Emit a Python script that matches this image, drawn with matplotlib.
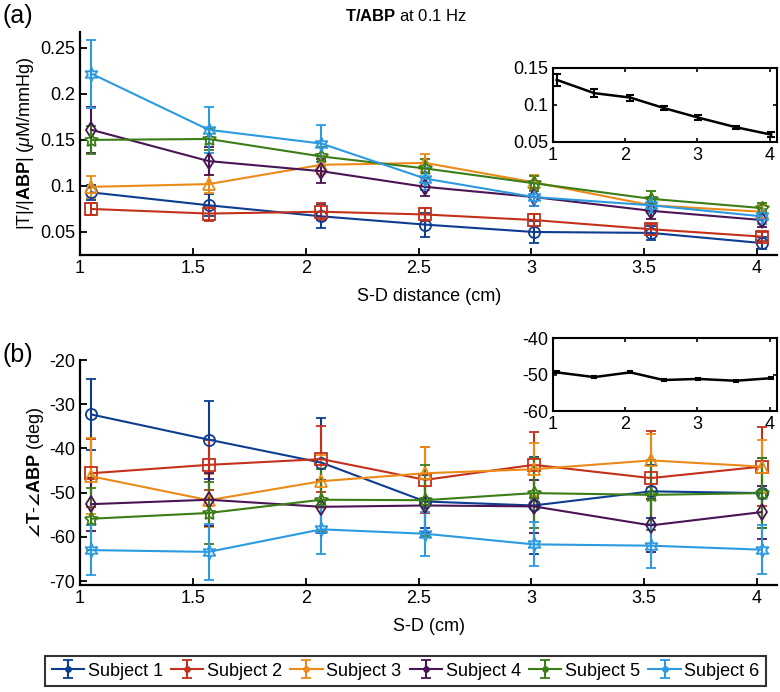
import matplotlib
matplotlib.use("Agg")
import matplotlib.pyplot as plt
from matplotlib.lines import Line2D
from matplotlib.legend_handler import HandlerErrorbar
import numpy as np

plt.rcParams['font.family'] = ['Liberation Sans', 'DejaVu Sans']
plt.rcParams['mathtext.fontset'] = 'custom'
plt.rcParams['mathtext.rm'] = 'Liberation Sans'
plt.rcParams['mathtext.it'] = 'Liberation Sans:italic'
plt.rcParams['mathtext.bf'] = 'Liberation Sans:bold'
plt.rcParams['axes.unicode_minus'] = False

# ---- data ----
sd = [1.05, 1.57, 2.07, 2.53, 3.01, 3.53, 4.02]
subjects = ['Subject 1', 'Subject 2', 'Subject 3', 'Subject 4', 'Subject 5', 'Subject 6']
colors = ['#0d3d91', '#c4301a', '#ec8a18', '#4a1554', '#3b7d16', '#2b9ae0']
markers = ['o', 's', '^', 'd', (5, 1, 0), (6, 1, 0)]
msizes = [8, 8, 8, 8, 10, 10]

amp = [
    [0.093, 0.079, 0.067, 0.058, 0.050, 0.049, 0.038],
    [0.075, 0.070, 0.072, 0.069, 0.063, 0.053, 0.045],
    [0.099, 0.102, 0.123, 0.125, 0.104, 0.079, 0.072],
    [0.161, 0.127, 0.116, 0.099, 0.088, 0.073, 0.063],
    [0.150, 0.151, 0.132, 0.119, 0.103, 0.086, 0.076],
    [0.222, 0.161, 0.146, 0.108, 0.088, 0.079, 0.067],
]
amp_err = [
    [0.008, 0.012, 0.013, 0.013, 0.012, 0.008, 0.007],
    [0.007, 0.008, 0.009, 0.007, 0.007, 0.006, 0.005],
    [0.012, 0.010, 0.010, 0.010, 0.008, 0.008, 0.008],
    [0.025, 0.015, 0.013, 0.010, 0.010, 0.009, 0.008],
    [0.015, 0.012, 0.010, 0.010, 0.008, 0.008, 0.006],
    [0.037, 0.025, 0.020, 0.012, 0.010, 0.008, 0.008],
]

phase = [
    [-32.3, -38.0, -43.2, -52.0, -52.9, -49.7, -50.1],
    [-45.6, -43.7, -42.4, -47.1, -43.7, -46.7, -44.1],
    [-46.3, -51.7, -47.4, -45.6, -44.7, -42.7, -44.1],
    [-52.6, -51.6, -53.2, -52.9, -53.1, -57.4, -54.4],
    [-55.9, -54.6, -51.6, -51.7, -50.1, -50.5, -50.1],
    [-63.0, -63.4, -58.3, -59.3, -61.7, -62.0, -62.9],
]
phase_err = [
    [8.0, 8.8, 10.0, 6.0, 11.0, 6.0, 8.0],
    [7.7, 5.6, 7.5, 7.5, 7.5, 10.7, 8.9],
    [8.6, 6.0, 6.0, 6.0, 6.0, 6.0, 6.0],
    [6.0, 6.0, 6.0, 6.0, 6.0, 6.0, 6.0],
    [7.0, 7.0, 7.0, 8.0, 8.0, 8.0, 8.0],
    [5.6, 6.3, 5.6, 5.0, 5.0, 5.0, 5.5],
]

amp_mean = [0.134, 0.116, 0.110, 0.096, 0.083, 0.070, 0.060]
amp_mean_err = [0.008, 0.005, 0.004, 0.003, 0.003, 0.002, 0.003]
phase_mean = [-49.4, -50.7, -49.4, -51.5, -51.2, -51.7, -51.0]
phase_mean_err = [0.3, 0.3, 0.3, 0.3, 0.3, 0.3, 0.3]

xticks = [1, 1.5, 2, 2.5, 3, 3.5, 4]
xticklabels = ['1', '1.5', '2', '2.5', '3', '3.5', '4']
amp_ticks = [0.05, 0.1, 0.15, 0.2, 0.25]
amp_ticklabels = ['0.05', '0.1', '0.15', '0.2', '0.25']
phase_ticks = [-70, -60, -50, -40, -30, -20]
inset_xticks = [1, 2, 3, 4]
inset_amp_ticks = [0.05, 0.1, 0.15]
inset_amp_labels = ['0.05', '0.1', '0.15']
inset_phase_ticks = [-60, -50, -40]

FS = 13

fig = plt.figure(figsize=(7.8, 6.92), dpi=100)
ax1 = fig.add_axes([0.1026, 0.6315, 0.894, 0.322])
ax2 = fig.add_axes([0.1026, 0.1546, 0.894, 0.325])


def style_main(ax):
    for s in ['top', 'right']:
        ax.spines[s].set_visible(False)
    for s in ['left', 'bottom']:
        ax.spines[s].set_linewidth(1.6)
    ax.tick_params(direction='in', length=5, width=1.3, labelsize=FS)
    ax.set_xlim(1, 4.09)
    ax.set_xticks(xticks)
    ax.set_xticklabels(xticklabels)


containers = []
for i in range(len(subjects)):
    c = ax1.errorbar(sd, amp[i], yerr=amp_err[i], color=colors[i], marker=markers[i],
                     mfc='none', ms=msizes[i], mew=1.3, lw=1.5, elinewidth=1.5, capsize=3.5,
                     capthick=1.5, label=subjects[i])
    containers.append(c)
    ax2.errorbar(sd, phase[i], yerr=phase_err[i], color=colors[i], marker=markers[i],
                 mfc='none', ms=msizes[i], mew=1.3, lw=1.5, elinewidth=1.5, capsize=3.5,
                 capthick=1.5)

style_main(ax1)
ax1.set_ylim(0.025, 0.267)
ax1.set_yticks(amp_ticks)
ax1.set_yticklabels(amp_ticklabels)
ax1.set_xlabel('S-D distance (cm)', fontsize=FS, labelpad=8)
ax1.set_ylabel(r'|T|/|$\mathbf{ABP}$| ($\mu$M/mmHg)', fontsize=FS, labelpad=3)

style_main(ax2)
ax2.set_ylim(-70.9, -20)
ax2.set_yticks(phase_ticks)
ax2.set_xlabel('S-D (cm)', fontsize=FS, labelpad=8)
ax2.set_ylabel(r'$\mathbf{\angle T}$-$\mathbf{\angle ABP}$ (deg)', fontsize=FS, labelpad=2)


def style_inset(ax):
    for s in ax.spines.values():
        s.set_linewidth(1.5)
    ax.tick_params(direction='in', length=3, width=1.2, labelsize=FS,
                   top=True, right=True)
    ax.set_xlim(1, 4.1)
    ax.set_xticks(inset_xticks)


in1 = fig.add_axes([0.709, 0.7948, 0.287, 0.107])
in1.errorbar(sd, amp_mean, yerr=amp_mean_err, color='black', lw=1.8,
             elinewidth=1.5, capsize=3, capthick=1.5)
style_inset(in1)
in1.set_ylim(0.05, 0.15)
in1.set_yticks(inset_amp_ticks)
in1.set_yticklabels(inset_amp_labels)

in2 = fig.add_axes([0.709, 0.406, 0.287, 0.1055])
in2.errorbar(sd, phase_mean, yerr=phase_mean_err, color='black', lw=1.8,
             elinewidth=1.5, capsize=2, capthick=1.5)
style_inset(in2)
in2.set_ylim(-60, -40)
in2.set_yticks(inset_phase_ticks)

fig.text(0.52, 0.977, r'$\mathbf{T/ABP}$ at 0.1 Hz', ha='center', va='center', fontsize=12)
fig.text(0.003, 0.977, '(a)', ha='left', va='center', fontsize=18)
fig.text(0.003, 0.487, '(b)', ha='left', va='center', fontsize=18)


def small_marker(legend_handle, orig_handle):
    legend_handle.update_from(orig_handle)
    if isinstance(legend_handle, Line2D):
        legend_handle.set_marker('.')
        legend_handle.set_markersize(7)
        legend_handle.set_markerfacecolor(legend_handle.get_color())


leg = fig.legend(containers, subjects, loc='center', bbox_to_anchor=(0.52, 0.03), ncol=6,
                 fontsize=FS, frameon=True, fancybox=False, edgecolor='black',
                 handlelength=1.8, handletextpad=0.2, columnspacing=0.45,
                 borderpad=0.35, borderaxespad=0,
                 handler_map={type(containers[0]): HandlerErrorbar(update_func=small_marker)})
leg.get_frame().set_linewidth(1.5)

fig.savefig('out.png', dpi=100)
